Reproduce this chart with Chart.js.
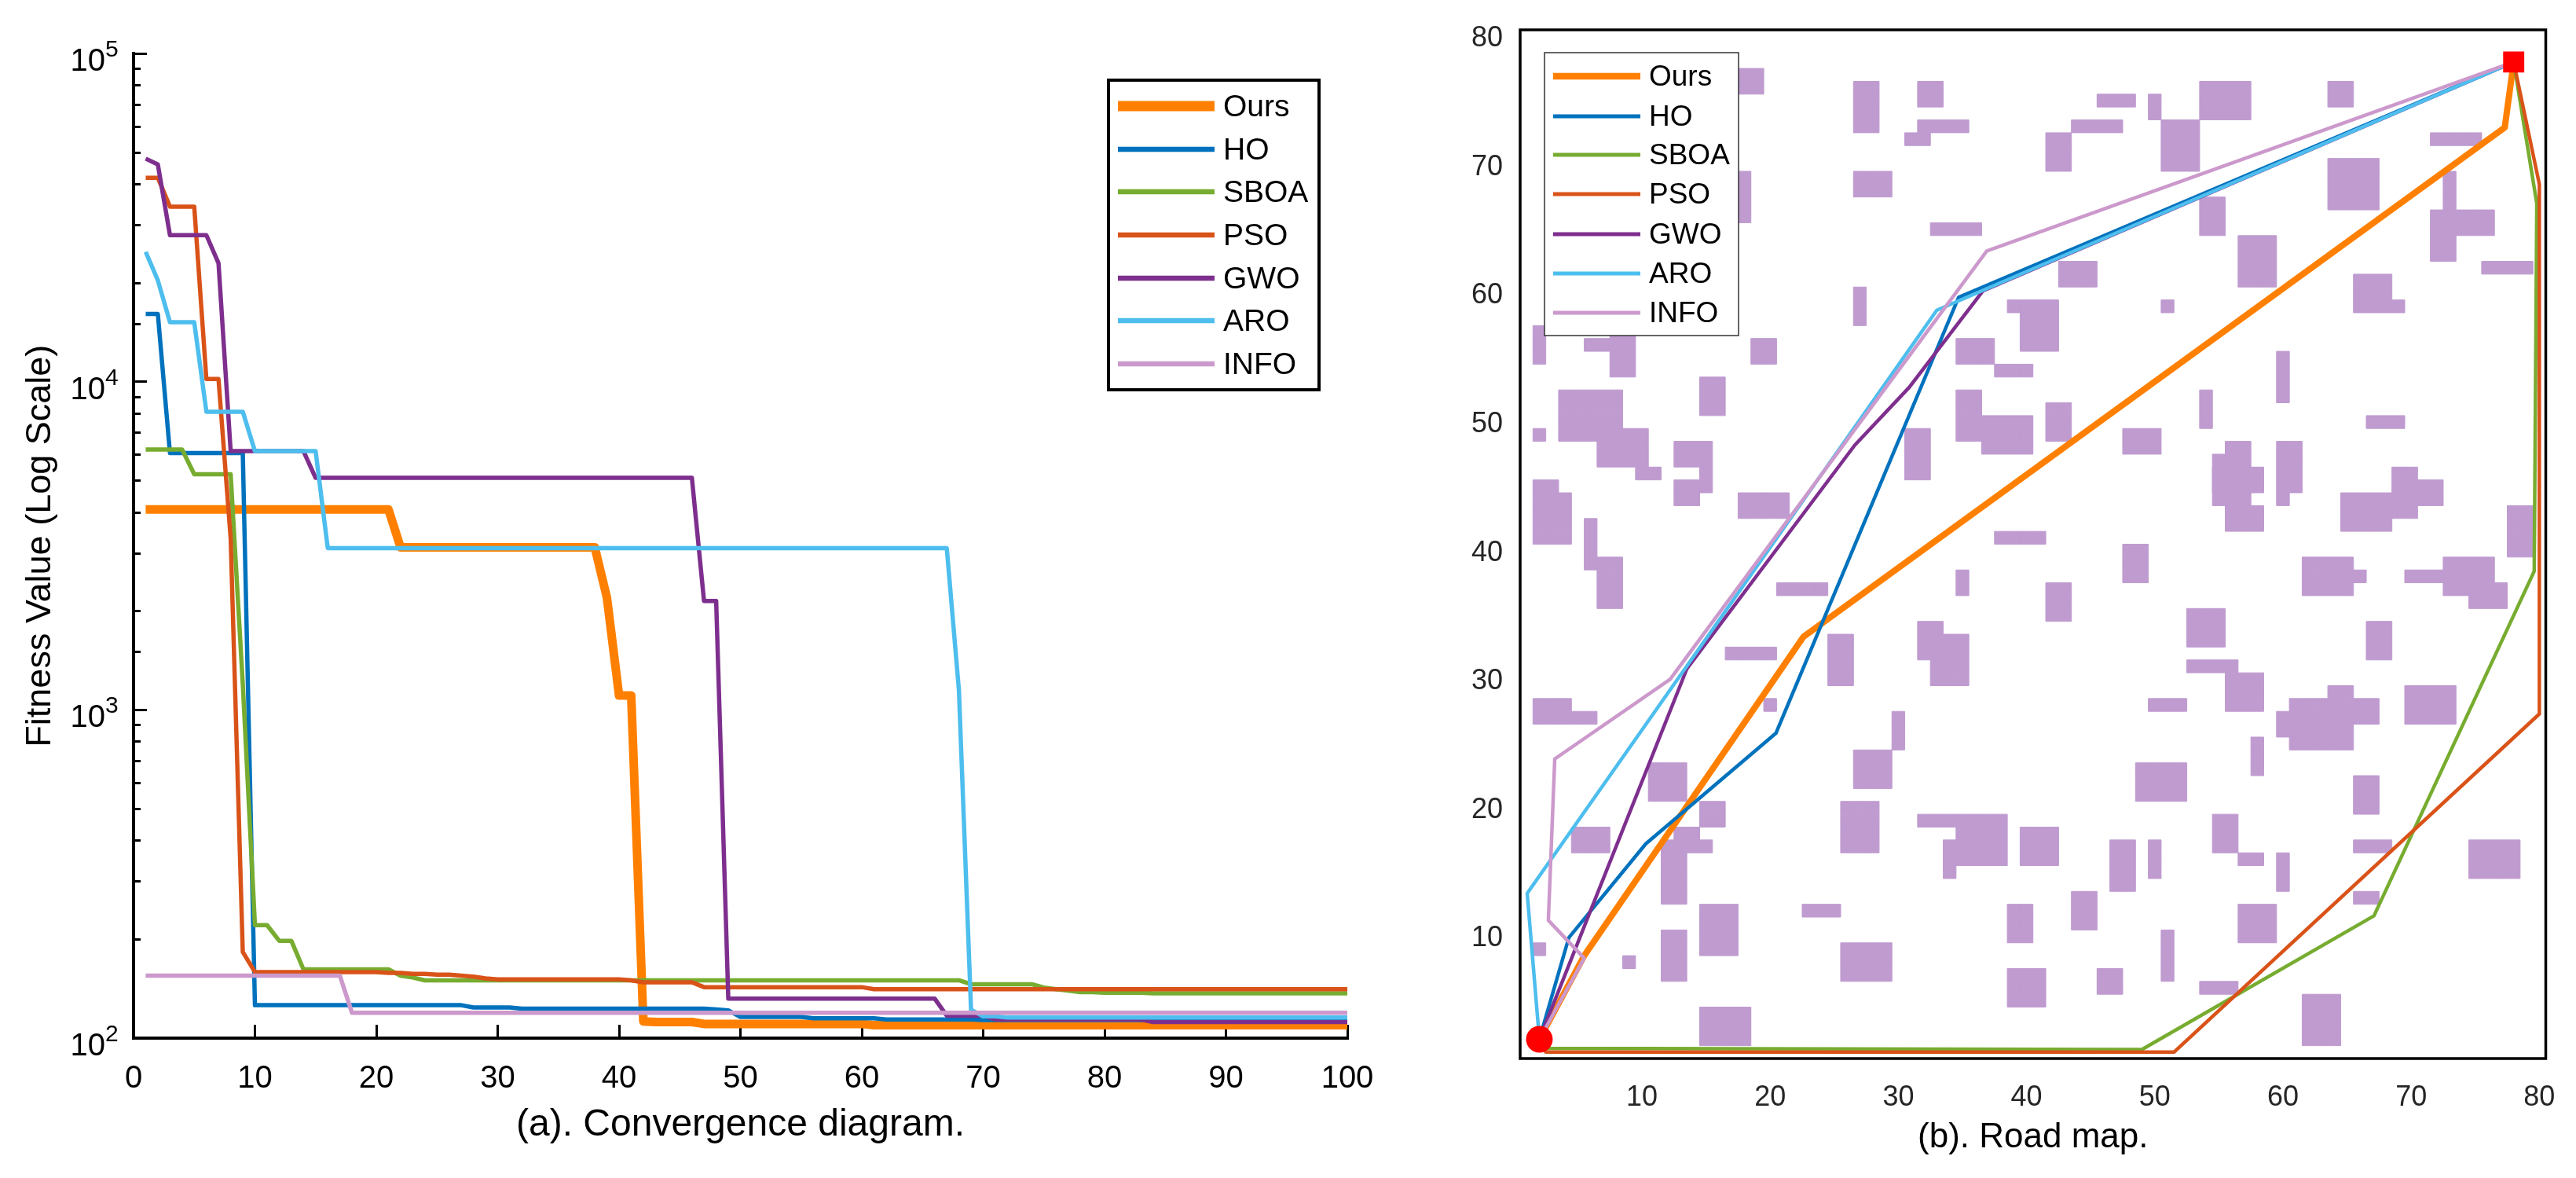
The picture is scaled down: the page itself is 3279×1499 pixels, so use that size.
<!DOCTYPE html>
<html>
<head>
<meta charset="utf-8">
<title>Convergence diagram and road map</title>
<script src="https://cdn.jsdelivr.net/npm/chart.js@4"></script>
<style>
    html, body { margin: 0; padding: 0; background: #fff; }
    canvas { position: absolute; top: 0; }
    #convergenceChart { left: 0; }
    #roadChart { left: 1860px; }
</style>
</head>
<body>
<canvas id="convergenceChart" width="1860" height="1499"></canvas>
<canvas id="roadChart" width="1419" height="1499"></canvas>
<script>
// names and colours
const methodNames = ['Ours', 'HO', 'SBOA', 'PSO', 'GWO', 'ARO', 'INFO'];
const methodColors = ['#FF8000', '#0072BD', '#77AC30', '#D95319', '#7E2F8E', '#4DBEEE', '#CC99CC'];

// (a) fitness value per iteration
const iterations = Array.from({ length: 100 }, (_, i) => i + 1);
const decades = [100, 1000, 10000, 100000];
const xTicksLeft = [0, 10, 20, 30, 40, 50, 60, 70, 80, 90, 100];

const oursFitness = [
    4085, 4085, 4085, 4085, 4085, 4085, 4085, 4085, 4085, 4085, 4085, 4085, 4085, 4085, 4085, 4085, 4085, 4085, 4085, 4085,
    4085, 3130, 3130, 3130, 3130, 3130, 3130, 3130, 3130, 3130, 3130, 3130, 3130, 3130, 3130, 3130, 3130, 3130, 2200, 1107,
    1107, 112.5, 112, 112, 112, 112, 110.5, 110.5, 110.5, 110.5, 110.5, 110.5, 110.5, 110.5, 110.5, 110.5, 110.5, 110.5, 110.5, 110.5,
    109.5, 109.5, 109.5, 109.5, 109.5, 109.5, 109.5, 109.5, 109.5, 109.5, 109.5, 109.5, 109.5, 109.5, 109.5, 109.5, 109.5, 109.5, 109.5, 109.5,
    109.5, 109.5, 109.5, 109.5, 109.5, 109.5, 109.5, 109.5, 109.5, 109.5, 109.5, 109.5, 109.5, 109.5, 109.5, 109.5, 109.5, 109.5, 109.5, 109.5
];
const hoFitness = [
    16100, 16100, 6070, 6070, 6070, 6070, 6070, 6070, 6070, 126, 126, 126, 126, 126, 126, 126, 126, 126, 126, 126,
    126, 126, 126, 126, 126, 126, 126, 124, 124, 124, 124, 123, 123, 123, 123, 123, 123, 123, 123, 123,
    123, 123, 123, 123, 123, 123, 123, 122.3, 121.5, 116, 116, 116, 116, 116, 116, 115, 115, 115, 115, 115,
    115, 114, 114, 114, 114, 114, 114, 114, 114, 113.5, 113.5, 113.5, 113.5, 113.5, 113.5, 113.5, 113.5, 113.5, 113.5, 113.5,
    113.5, 113.5, 113.5, 113.5, 113.5, 113, 113, 113, 113, 113, 113, 113, 113, 113, 113, 113, 113, 113, 113, 113
];
const sboaFitness = [
    6220, 6220, 6220, 6220, 5230, 5230, 5230, 5230, 1200, 221, 221, 198, 198, 162, 162, 162, 162, 162, 162, 162,
    162, 155, 153, 150, 150, 150, 150, 150, 150, 150, 150, 150, 150, 150, 150, 150, 150, 150, 150, 150,
    150, 150, 150, 150, 150, 150, 150, 150, 150, 150, 150, 150, 150, 150, 150, 150, 150, 150, 150, 150,
    150, 150, 150, 150, 150, 150, 150, 150, 146, 146, 146, 146, 146, 146, 142.6, 141, 139.5, 138, 138, 137.5,
    137.5, 137.5, 137.5, 137, 137, 137, 137, 137, 137, 137, 137, 137, 137, 137, 137, 137, 137, 137, 137, 137
];
const psoFitness = [
    41900, 41900, 34200, 34200, 34200, 10200, 10200, 3340, 183, 159, 159, 159, 159, 159, 159, 159, 159, 159, 159, 159,
    158, 158, 157, 157, 156, 156, 155, 154, 152, 151, 151, 151, 151, 151, 151, 151, 151, 151, 151, 151,
    150, 148, 148, 148, 148, 148, 143, 143, 143, 143, 143, 143, 143, 143, 143, 143, 143, 143, 143, 143,
    141, 141, 141, 141, 141, 141, 141, 141, 141, 141, 141, 141, 141, 141, 141, 141, 141, 141, 141, 141,
    141, 141, 141, 141, 141, 141, 141, 141, 141, 141, 141, 141, 141, 141, 141, 141, 141, 141, 141, 141
];
const gwoFitness = [
    47900, 46000, 28000, 28000, 28000, 28000, 23000, 6150, 6150, 6150, 6150, 6150, 6150, 6150, 5100, 5100, 5100, 5100, 5100, 5100,
    5100, 5100, 5100, 5100, 5100, 5100, 5100, 5100, 5100, 5100, 5100, 5100, 5100, 5100, 5100, 5100, 5100, 5100, 5100, 5100,
    5100, 5100, 5100, 5100, 5100, 5100, 2150, 2150, 132, 132, 132, 132, 132, 132, 132, 132, 132, 132, 132, 132,
    132, 132, 132, 132, 132, 132, 117, 117, 117, 117, 114, 114, 114, 114, 114, 114, 114, 114, 114, 114,
    114, 114, 114, 112, 112, 112, 112, 112, 112, 112, 112, 112, 112, 112, 112, 112, 112, 112, 112, 112
];
const aroFitness = [
    24900, 20400, 15200, 15200, 15200, 8110, 8110, 8110, 8110, 6150, 6150, 6150, 6150, 6150, 6150, 3115, 3115, 3115, 3115, 3115,
    3115, 3115, 3115, 3115, 3115, 3115, 3115, 3115, 3115, 3115, 3115, 3115, 3115, 3115, 3115, 3115, 3115, 3115, 3115, 3115,
    3115, 3115, 3115, 3115, 3115, 3115, 3115, 3115, 3115, 3115, 3115, 3115, 3115, 3115, 3115, 3115, 3115, 3115, 3115, 3115,
    3115, 3115, 3115, 3115, 3115, 3115, 3115, 1150, 122, 116.5, 116.5, 115.5, 115.5, 115.5, 115.5, 115.5, 115.5, 115.5, 115.5, 115.5,
    115.5, 115.5, 115.5, 115.5, 115.5, 115.5, 115.5, 115.5, 115.5, 115.5, 115.5, 115.5, 115.5, 115.5, 115.5, 115.5, 115.5, 115.5, 115.5, 115.5
];
const infoFitness = [
    155, 155, 155, 155, 155, 155, 155, 155, 155, 155, 155, 155, 155, 155, 155, 155, 155, 119.4, 119.4, 119.4,
    119.4, 119.4, 119.4, 119.4, 119.4, 119.4, 119.4, 119.4, 119.4, 119.4, 119.4, 119.4, 119.4, 119.4, 119.4, 119.4, 119.4, 119.4, 119.4, 119.4,
    119.4, 119.4, 119.4, 119.4, 119.4, 119.4, 119.4, 119.4, 119.4, 119.4, 119.4, 119.4, 119.4, 119.4, 119.4, 119.4, 119.4, 119.4, 119.4, 119.4,
    119.4, 119.4, 119.4, 119.4, 119.4, 119.4, 119.4, 119.4, 119.4, 119.4, 119.4, 119.4, 119.4, 119.4, 119.4, 119.4, 119.4, 119.4, 119.4, 119.4,
    119.4, 119.4, 119.4, 119.4, 119.4, 119.4, 119.4, 119.4, 119.4, 119.4, 119.4, 119.4, 119.4, 119.4, 119.4, 119.4, 119.4, 119.4, 119.4, 119.4
];
const fitnessSeries = [oursFitness, hoFitness, sboaFitness, psoFitness, gwoFitness, aroFitness, infoFitness];

// (b) paths on the road map
const roadTicks = [10, 20, 30, 40, 50, 60, 70, 80];
const startX = [2], startY = [2];
const goalX = [78], goalY = [78];
const oursPathX = [2, 5.5, 22.6, 77.3, 78];
const oursPathY = [2, 8.5, 33.3, 72.9, 78];
const hoPathX = [2, 4.3, 10.3, 20.45, 34.7, 78];
const hoPathY = [2, 9.9, 17.2, 25.8, 59.7, 78];
const sboaPathX = [2, 2.3, 49, 67.1, 79.6, 79.8, 78];
const sboaPathY = [2, 1.3, 1.2, 11.6, 38.4, 67, 78];
const psoPathX = [2, 2.5, 51.5, 80, 80, 78];
const psoPathY = [2, 1, 1, 27.3, 68.5, 78];
const gwoPathX = [2, 13.5, 26.6, 30.85, 36.6, 78];
const gwoPathY = [2, 30.8, 48.2, 52.7, 60.2, 78];
const aroPathX = [2, 1.05, 33, 78];
const aroPathY = [2, 13.35, 58.7, 78];
const infoPathX = [2, 5.5, 2.7, 3.2, 12.2, 36.9, 78];
const infoPathY = [2, 8.3, 11.25, 23.8, 30, 63.3, 78];
const pathsX = [oursPathX, hoPathX, sboaPathX, psoPathX, gwoPathX, aroPathX, infoPathX];
const pathsY = [oursPathY, hoPathY, sboaPathY, psoPathY, gwoPathY, aroPathY, infoPathY];

// obstacle blocks on the map grid: x from, x to, y from, y to
const obstacleBlocks = [
    [16.5, 19.5, 75.5, 77.5], [26.5, 28.5, 72.5, 76.5], [31.5, 33.5, 74.5, 76.5], [31.5, 35.5, 72.5, 73.5],
    [30.5, 32.5, 71.5, 72.5], [41.5, 43.5, 69.5, 72.5], [43.5, 47.5, 72.5, 73.5], [16.5, 18.5, 65.5, 69.5],
    [26.5, 29.5, 67.5, 69.5], [32.5, 36.5, 64.5, 65.5], [42.5, 45.5, 60.5, 62.5], [26.5, 27.5, 57.5, 60.5],
    [38.5, 42.5, 58.5, 59.5], [39.5, 42.5, 55.5, 58.5], [34.5, 37.5, 54.5, 56.5], [37.5, 40.5, 53.5, 54.5],
    [18.5, 20.5, 54.5, 56.5], [1.5, 2.5, 54.5, 57.5], [5.5, 7.5, 55.5, 56.5], [7.5, 9.5, 53.5, 57.5],
    [14.5, 16.5, 50.5, 53.5], [3.5, 8.5, 48.5, 52.5], [6.5, 10.5, 46.5, 49.5], [9.5, 11.5, 45.5, 46.5],
    [1.5, 2.5, 48.5, 49.5], [12.5, 15.5, 46.5, 48.5], [14.5, 15.5, 44.5, 46.5], [12.5, 14.5, 43.5, 45.5],
    [1.5, 3.5, 44.5, 45.5], [1.5, 4.5, 40.5, 44.5], [5.5, 6.5, 38.5, 42.5], [6.5, 8.5, 35.5, 39.5],
    [17.5, 21.5, 42.5, 44.5], [37.5, 41.5, 40.5, 41.5], [30.5, 32.5, 45.5, 49.5], [34.5, 36.5, 48.5, 52.5],
    [36.5, 40.5, 47.5, 50.5], [41.5, 43.5, 48.5, 51.5], [34.5, 35.5, 36.5, 38.5], [20.5, 24.5, 36.5, 37.5],
    [41.5, 43.5, 34.5, 37.5], [31.5, 33.5, 31.5, 34.5], [32.5, 35.5, 29.5, 33.5], [24.5, 26.5, 29.5, 33.5],
    [16.5, 20.5, 31.5, 32.5], [1.5, 4.5, 26.5, 28.5], [4.5, 6.5, 26.5, 27.5], [19.5, 20.5, 27.5, 28.5],
    [29.5, 30.5, 24.5, 27.5], [26.5, 29.5, 21.5, 24.5], [10.5, 13.5, 20.5, 23.5], [14.5, 16.5, 18.5, 20.5],
    [25.5, 28.5, 16.5, 20.5], [31.5, 38.5, 18.5, 19.5], [34.5, 38.5, 15.5, 18.5], [33.5, 34.5, 14.5, 17.5],
    [39.5, 42.5, 15.5, 18.5], [4.5, 7.5, 16.5, 18.5], [12.5, 14.5, 17.5, 18.5], [11.5, 15.5, 16.5, 17.5],
    [11.5, 13.5, 12.5, 16.5], [43.5, 45.5, 10.5, 13.5], [38.5, 40.5, 9.5, 12.5], [22.5, 25.5, 11.5, 12.5],
    [14.5, 17.5, 8.5, 12.5], [11.5, 13.5, 6.5, 10.5], [25.5, 29.5, 6.5, 9.5], [1.5, 2.5, 8.5, 9.5],
    [8.5, 9.5, 7.5, 8.5], [38.5, 41.5, 4.5, 7.5], [14.5, 18.5, 1.5, 4.5],
    [45.5, 48.5, 74.5, 75.5], [49.5, 50.5, 73.5, 75.5], [53.5, 57.5, 73.5, 76.5], [50.5, 53.5, 69.5, 73.5],
    [63.5, 65.5, 74.5, 76.5], [71.5, 75.5, 71.5, 72.5], [63.5, 67.5, 66.5, 70.5], [72.5, 73.5, 66.5, 69.5],
    [71.5, 76.5, 64.5, 66.5], [71.5, 73.5, 62.5, 64.5], [53.5, 55.5, 64.5, 67.5], [56.5, 59.5, 60.5, 64.5],
    [75.5, 79.5, 61.5, 62.5], [65.5, 68.5, 58.5, 61.5], [50.5, 51.5, 58.5, 59.5], [68.5, 69.5, 58.5, 59.5],
    [59.5, 60.5, 51.5, 55.5], [53.5, 54.5, 49.5, 52.5], [66.5, 69.5, 49.5, 50.5], [47.5, 50.5, 47.5, 49.5],
    [55.5, 57.5, 47.5, 48.5], [54.5, 57.5, 43.5, 47.5], [54.5, 58.5, 44.5, 46.5], [55.5, 58.5, 41.5, 43.5],
    [59.5, 61.5, 44.5, 48.5], [59.5, 60.5, 43.5, 44.5], [64.5, 68.5, 41.5, 44.5], [68.5, 70.5, 42.5, 46.5],
    [70.5, 72.5, 43.5, 45.5], [77.5, 79.5, 39.5, 43.5], [47.5, 49.5, 37.5, 40.5], [61.5, 65.5, 36.5, 39.5],
    [65.5, 66.5, 37.5, 38.5], [69.5, 72.5, 37.5, 38.5], [72.5, 76.5, 36.5, 39.5], [74.5, 77.5, 35.5, 37.5],
    [52.5, 55.5, 32.5, 35.5], [66.5, 68.5, 31.5, 34.5], [52.5, 56.5, 30.5, 31.5], [55.5, 58.5, 27.5, 30.5],
    [49.5, 52.5, 27.5, 28.5], [63.5, 65.5, 28.5, 29.5], [60.5, 65.5, 24.5, 28.5], [59.5, 60.5, 25.5, 27.5],
    [65.5, 67.5, 26.5, 28.5], [69.5, 73.5, 26.5, 29.5], [57.5, 58.5, 22.5, 25.5], [48.5, 52.5, 20.5, 23.5],
    [65.5, 67.5, 19.5, 22.5], [54.5, 56.5, 16.5, 19.5], [56.5, 58.5, 15.5, 16.5], [65.5, 68.5, 16.5, 17.5],
    [74.5, 78.5, 14.5, 17.5], [46.5, 48.5, 13.5, 17.5], [49.5, 50.5, 14.5, 17.5], [59.5, 60.5, 13.5, 16.5],
    [65.5, 67.5, 12.5, 13.5], [56.5, 59.5, 9.5, 12.5], [50.5, 51.5, 6.5, 10.5], [45.5, 47.5, 5.5, 7.5],
    [53.5, 56.5, 5.5, 6.5], [61.5, 64.5, 1.5, 5.5]
];

const FONT_FAMILY = '"Liberation Sans", Arial, sans-serif';

// the blocks are made of 1x1 grid cells, one square point per cell
function obstacleCells() {
    const cells = [];
    obstacleBlocks.forEach(([x0, x1, y0, y1]) => {
        for (let x = x0 + 0.5; x < x1; x++) {
            for (let y = y0 + 0.5; y < y1; y++) {
                cells.push({ x, y });
            }
        }
    });
    return cells;
}

// legend box with a white background, like the matlab one
const boxLegend = {
    id: 'boxLegend',
    afterDraw(chart, args, opts) {
        const ctx = chart.ctx;
        ctx.save();
        ctx.fillStyle = '#fff';
        ctx.fillRect(opts.left, opts.top, opts.right - opts.left, opts.bottom - opts.top);
        ctx.strokeStyle = opts.borderColor;
        ctx.lineWidth = opts.borderWidth;
        ctx.strokeRect(opts.left, opts.top, opts.right - opts.left, opts.bottom - opts.top);
        ctx.font = opts.fontSize + 'px ' + FONT_FAMILY;
        ctx.textBaseline = 'middle';
        ctx.textAlign = 'left';
        methodNames.forEach((name, i) => {
            const y = opts.rows[i];
            ctx.strokeStyle = methodColors[i];
            ctx.lineWidth = opts.lineWidths[i];
            ctx.beginPath();
            ctx.moveTo(opts.lineStart, y);
            ctx.lineTo(opts.lineEnd, y);
            ctx.stroke();
            ctx.fillStyle = '#000';
            ctx.fillText(name, opts.textX, y + 2);
        });
        ctx.restore();
    }
};

// y labels 10^2 .. 10^5 with a raised exponent
const decadeLabels = {
    id: 'decadeLabels',
    afterDraw(chart) {
        const ctx = chart.ctx;
        const yScale = chart.scales.yMajor;
        ctx.save();
        ctx.fillStyle = '#000';
        ctx.textBaseline = 'alphabetic';
        decades.forEach(d => {
            const y = yScale.getPixelForValue(d);
            ctx.font = '40px ' + FONT_FAMILY;
            ctx.textAlign = 'right';
            ctx.fillText('10', 134, y + 22);
            ctx.font = '30px ' + FONT_FAMILY;
            ctx.textAlign = 'left';
            ctx.fillText(String(Math.round(Math.log10(d))), 134, y + 4);
        });
        ctx.restore();
    }
};

// box around the road map
const plotFrame = {
    id: 'plotFrame',
    afterDatasetsDraw(chart) {
        const { left, top, right, bottom } = chart.chartArea;
        const ctx = chart.ctx;
        ctx.save();
        ctx.strokeStyle = '#000';
        ctx.lineWidth = 3.5;
        ctx.strokeRect(left, top, right - left, bottom - top);
        ctx.restore();
    }
};

function createConvergenceChart() {
    const ctx = document.getElementById('convergenceChart').getContext('2d');
    return new Chart(ctx, {
        type: 'line',
        data: {
            labels: iterations,
            datasets: methodNames.map((name, i) => ({
                label: name,
                data: fitnessSeries[i],
                borderColor: methodColors[i],
                backgroundColor: methodColors[i],
                borderWidth: i === 0 ? 11 : 5.5,
                borderJoinStyle: 'round',
                pointRadius: 0,
                tension: 0,
                order: methodNames.length - i,
                yAxisID: 'y'
            }))
        },
        options: {
            responsive: false,
            animation: false,
            devicePixelRatio: 1,
            layout: { padding: { top: 68.4, right: 145, left: 0, bottom: 0 } },
            plugins: {
                legend: { display: false },
                tooltip: { enabled: false },
                boxLegend: {
                    left: 1411, right: 1679, top: 102, bottom: 496,
                    borderColor: '#000', borderWidth: 4,
                    rows: [135, 190, 244, 299, 354, 408, 463],
                    lineWidths: [13, 6.5, 6.5, 6.5, 6.5, 6.5, 6.5],
                    lineStart: 1423, lineEnd: 1546, textX: 1557, fontSize: 39
                }
            },
            scales: {
                x: {
                    type: 'linear',
                    min: 0,
                    max: 100,
                    afterFit: s => { s.height = 178; },
                    afterBuildTicks: s => { s.ticks = xTicksLeft.map(v => ({ value: v })); },
                    border: { color: '#000', width: 4 },
                    grid: { drawOnChartArea: false, color: '#000', tickColor: '#000', tickWidth: 3, tickLength: -17 },
                    ticks: { color: '#000', maxRotation: 0, autoSkip: false, padding: 45, font: { family: FONT_FAMILY, size: 40 } },
                    title: {
                        display: true,
                        text: '(a). Convergence diagram.',
                        color: '#000',
                        font: { family: FONT_FAMILY, size: 48 },
                        padding: { top: 0, bottom: 38 }
                    }
                },
                y: {
                    type: 'logarithmic',
                    weight: 1,
                    min: 100,
                    max: 100000,
                    afterFit: s => { s.width = 170; },
                    border: { color: '#000', width: 4 },
                    grid: { drawOnChartArea: false, color: '#000', tickColor: '#000', tickWidth: 3, tickLength: -9 },
                    ticks: { display: false, autoSkip: false },
                    title: {
                        display: true,
                        text: 'Fitness Value (Log Scale)',
                        color: '#000',
                        font: { family: FONT_FAMILY, size: 45 },
                        padding: { top: 25, bottom: 0 }
                    }
                },
                // second axis only for the longer decade ticks
                yMajor: {
                    type: 'logarithmic',
                    position: 'left',
                    weight: 0,
                    min: 100,
                    max: 100000,
                    afterFit: s => { s.width = 0; },
                    afterBuildTicks: s => { s.ticks = decades.map(v => ({ value: v })); },
                    border: { display: false },
                    grid: { drawOnChartArea: false, color: '#000', tickColor: '#000', tickWidth: 3, tickLength: -17 },
                    ticks: { display: false, autoSkip: false }
                }
            }
        },
        plugins: [boxLegend, decadeLabels]
    });
}

function createRoadChart() {
    const ctx = document.getElementById('roadChart').getContext('2d');
    const pathSets = methodNames.map((name, i) => ({
        type: 'scatter',
        label: name,
        data: pathsX[i].map((x, k) => ({ x, y: pathsY[i][k] })),
        showLine: true,
        borderColor: methodColors[i],
        backgroundColor: methodColors[i],
        borderWidth: i === 0 ? 8 : 4.5,
        borderJoinStyle: 'round',
        pointRadius: 0,
        tension: 0,
        order: methodNames.length - i + 1
    }));
    return new Chart(ctx, {
        type: 'scatter',
        data: {
            datasets: [
                {
                    label: 'Obstacles',
                    data: obstacleCells(),
                    pointStyle: 'rect',
                    pointRadius: 11.55,
                    pointBorderWidth: 1,
                    pointBackgroundColor: '#BF9BD0',
                    pointBorderColor: '#BF9BD0',
                    order: 20
                },
                ...pathSets,
                {
                    label: 'Start',
                    data: startX.map((x, k) => ({ x, y: startY[k] })),
                    pointStyle: 'circle',
                    pointRadius: 17,
                    pointBackgroundColor: '#FF0000',
                    pointBorderWidth: 0,
                    order: 0
                },
                {
                    label: 'Goal',
                    data: goalX.map((x, k) => ({ x, y: goalY[k] })),
                    pointStyle: 'rect',
                    pointRadius: 19,
                    pointBackgroundColor: '#FF0000',
                    pointBorderWidth: 0,
                    order: 0
                }
            ]
        },
        options: {
            responsive: false,
            animation: false,
            devicePixelRatio: 1,
            layout: { padding: { top: 38, right: 38.5, left: 0, bottom: 0 } },
            plugins: {
                legend: { display: false },
                tooltip: { enabled: false },
                boxLegend: {
                    left: 106, right: 353, top: 67, bottom: 427,
                    borderColor: '#333', borderWidth: 1.5,
                    rows: [97, 148, 197, 247, 298, 348, 398],
                    lineWidths: [8.5, 5, 5, 5, 5, 5, 5],
                    lineStart: 117, lineEnd: 228, textX: 239, fontSize: 37
                }
            },
            scales: {
                x: {
                    type: 'linear',
                    min: 0.5,
                    max: 80.5,
                    afterFit: s => { s.height = 152; },
                    afterBuildTicks: s => { s.ticks = roadTicks.map(v => ({ value: v })); },
                    border: { display: false },
                    grid: { display: false },
                    ticks: { color: '#262626', maxRotation: 0, autoSkip: false, padding: 20, font: { family: FONT_FAMILY, size: 36 } },
                    title: {
                        display: true,
                        text: '(b). Road map.',
                        color: '#000',
                        font: { family: FONT_FAMILY, size: 44 },
                        padding: { top: 0, bottom: 25 }
                    }
                },
                y: {
                    type: 'linear',
                    min: 0.5,
                    max: 80.5,
                    afterFit: s => { s.width = 75; },
                    afterBuildTicks: s => { s.ticks = roadTicks.map(v => ({ value: v })); },
                    border: { display: false },
                    grid: { display: false },
                    ticks: { color: '#262626', autoSkip: false, padding: 14, labelOffset: 3, font: { family: FONT_FAMILY, size: 36 } }
                }
            }
        },
        plugins: [plotFrame, boxLegend]
    });
}

createConvergenceChart();
createRoadChart();
</script>
</body>
</html>
